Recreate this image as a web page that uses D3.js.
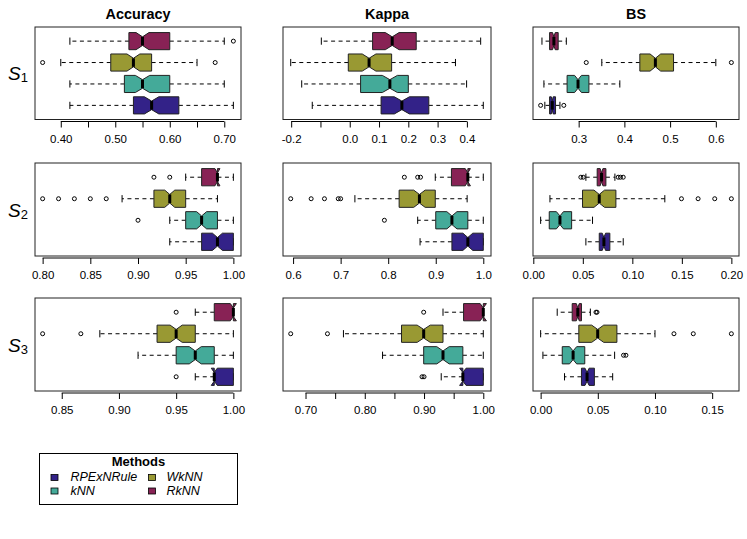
<!DOCTYPE html>
<html>
<head>
<meta charset="utf-8">
<script src="https://cdn.jsdelivr.net/npm/d3@7/dist/d3.min.js"></script>
<style>
  html, body { margin: 0; padding: 0; background: #fff; }
  svg { display: block; font-family: "Liberation Sans", Arial, Helvetica, sans-serif; }
</style>
</head>
<body>
<svg id="chart" width="747" height="539"></svg>
<script>
// ---------------- DATA ----------------
const methods = ["RPExNRule", "kNN", "WkNN", "RkNN"];   // bottom -> top
const methodColors = ["#332288", "#44AA99", "#999933", "#882255"];
const measures = ["Accuracy", "Kappa", "BS"];
const scenarios = ["1", "2", "3"];
const nRuns = 100; // used for R-style notch width 1.58*IQR/sqrt(n)

// stats: [lower whisker, Q1, median, Q3, upper whisker], order = methods
const s1Accuracy = [[0.4167, 0.5333, 0.5667, 0.6167, 0.7167], [0.4167, 0.5167, 0.55, 0.60, 0.70], [0.40, 0.4917, 0.5333, 0.5667, 0.65], [0.4167, 0.525, 0.55, 0.60, 0.70]];
const s1AccuracyOut = [[], [], [0.3667, 0.6833], [0.7167]];
const s1Kappa = [[-0.128, 0.107, 0.178, 0.27, 0.456], [-0.164, 0.037, 0.137, 0.20, 0.399], [-0.2016, -0.005, 0.066, 0.143, 0.361], [-0.097, 0.078, 0.145, 0.227, 0.447]];
const s1KappaOut = [[], [], [], []];
const s1BS = [[0.226, 0.2364, 0.2422, 0.2494, 0.259], [0.224, 0.2747, 0.2986, 0.3224, 0.390], [0.3506, 0.4338, 0.4678, 0.5075, 0.60], [0.2197, 0.2364, 0.2458, 0.2552, 0.273]];
const s1BSOut = [[0.2168, 0.2675], [], [0.3166, 0.634], []];

const s2Accuracy = [[0.9333, 0.9667, 0.9833, 1.0, 1.0], [0.9333, 0.95, 0.9667, 0.9833, 1.0], [0.8833, 0.9167, 0.9333, 0.95, 0.9833], [0.95, 0.9667, 0.9833, 0.9833, 1.0]];
const s2AccuracyOut = [[], [0.90], [0.80, 0.8167, 0.8333, 0.85, 0.8667], [0.9167, 0.9333]];
const s2Kappa = [[0.867, 0.934, 0.9675, 1.0, 1.0], [0.862, 0.90, 0.934, 0.9675, 1.0], [0.730, 0.823, 0.8657, 0.899, 0.966], [0.899, 0.933, 0.9675, 0.9675, 1.0]];
const s2KappaOut = [[], [0.792], [0.595, 0.638, 0.666, 0.695, 0.700], [0.834, 0.862, 0.868]];
const s2BS = [[0.0531, 0.0666, 0.0713, 0.0773, 0.0908], [0.0074, 0.0161, 0.0269, 0.0387, 0.0598], [0.0168, 0.0497, 0.0666, 0.0834, 0.1328], [0.0531, 0.0645, 0.0689, 0.0733, 0.0824]];
const s2BSOut = [[], [], [0.1496, 0.1664, 0.1832, 0.20], [0.048, 0.0504, 0.0857, 0.088, 0.0908]];

const s3Accuracy = [[0.9667, 0.9833, 0.9833, 1.0, 1.0], [0.9167, 0.95, 0.9667, 0.9833, 1.0], [0.8833, 0.9333, 0.95, 0.9667, 1.0], [0.9667, 0.9833, 1.0, 1.0, 1.0]];
const s3AccuracyOut = [[0.95], [], [0.8333, 0.8667], [0.95]];
const s3Kappa = [[0.929, 0.9655, 0.9655, 1.0, 1.0], [0.830, 0.8994, 0.932, 0.9655, 1.0], [0.764, 0.862, 0.8994, 0.932, 1.0], [0.932, 0.9667, 1.0, 1.0, 1.0]];
const s3KappaOut = [[0.8966, 0.90], [], [0.675, 0.737], [0.8994]];
const s3BS = [[0.0209, 0.0357, 0.0406, 0.047, 0.063], [0.002, 0.0189, 0.0284, 0.0386, 0.0647], [0.0, 0.0334, 0.0499, 0.0667, 0.10], [0.0145, 0.0276, 0.0325, 0.0357, 0.0435]];
const s3BSOut = [[], [0.0725, 0.0746], [0.1166, 0.1335, 0.1668], [0.0484, 0.0493]];

// axis ticks and their labels ("" = tick without label)
const s1AccuracyTicks = [0.40, 0.45, 0.50, 0.55, 0.60, 0.65, 0.70];
const s1AccuracyLabels = ["0.40", "", "0.50", "", "0.60", "", "0.70"];
const s1KappaTicks = [-0.2, -0.1, 0.0, 0.1, 0.2, 0.3, 0.4];
const s1KappaLabels = ["-0.2", "", "0.0", "0.1", "0.2", "0.3", "0.4"];
const s1BSTicks = [0.3, 0.4, 0.5, 0.6];
const s1BSLabels = ["0.3", "0.4", "0.5", "0.6"];
const s2AccuracyTicks = [0.80, 0.85, 0.90, 0.95, 1.00];
const s2AccuracyLabels = ["0.80", "0.85", "0.90", "0.95", "1.00"];
const s2KappaTicks = [0.6, 0.7, 0.8, 0.9, 1.0];
const s2KappaLabels = ["0.6", "0.7", "0.8", "0.9", "1.0"];
const s2BSTicks = [0.00, 0.05, 0.10, 0.15, 0.20];
const s2BSLabels = ["0.00", "0.05", "0.10", "0.15", "0.20"];
const s3AccuracyTicks = [0.85, 0.90, 0.95, 1.00];
const s3AccuracyLabels = ["0.85", "0.90", "0.95", "1.00"];
const s3KappaTicks = [0.70, 0.75, 0.80, 0.85, 0.90, 0.95, 1.00];
const s3KappaLabels = ["0.70", "", "0.80", "", "0.90", "", "1.00"];
const s3BSTicks = [0.00, 0.05, 0.10, 0.15];
const s3BSLabels = ["0.00", "0.05", "0.10", "0.15"];

// ---------------- LAYOUT ----------------
const panels = [
  [s1Accuracy, s1AccuracyOut, s1AccuracyTicks, s1AccuracyLabels],
  [s1Kappa, s1KappaOut, s1KappaTicks, s1KappaLabels],
  [s1BS, s1BSOut, s1BSTicks, s1BSLabels],
  [s2Accuracy, s2AccuracyOut, s2AccuracyTicks, s2AccuracyLabels],
  [s2Kappa, s2KappaOut, s2KappaTicks, s2KappaLabels],
  [s2BS, s2BSOut, s2BSTicks, s2BSLabels],
  [s3Accuracy, s3AccuracyOut, s3AccuracyTicks, s3AccuracyLabels],
  [s3Kappa, s3KappaOut, s3KappaTicks, s3KappaLabels],
  [s3BS, s3BSOut, s3BSTicks, s3BSLabels]
];
const colX = [[35, 241], [283, 491], [533, 739]];
const rowY = [[27, 119.5], [163, 256], [298, 391]];

const svg = d3.select("#chart");

// column titles
measures.forEach((m, c) => {
  svg.append("text")
    .attr("x", (colX[c][0] + colX[c][1]) / 2).attr("y", 18.5)
    .attr("text-anchor", "middle").attr("font-weight", "bold").attr("font-size", 14.4)
    .text(m);
});

// row labels
scenarios.forEach((s, r) => {
  const cy = (rowY[r][0] + rowY[r][1]) / 2;
  const t = svg.append("text").attr("x", 8).attr("y", cy + 7).attr("font-size", 19);
  t.append("tspan").attr("font-style", "italic").text("S");
  t.append("tspan").attr("font-size", 13).attr("dy", 2).text(s);
});

panels.forEach((p, i) => {
  const r = Math.floor(i / 3), c = i % 3;
  const [stats, outs, ticks, labels] = p;
  const allVals = stats.flat().concat(outs.flat());
  let lo = d3.min(allVals), hi = d3.max(allVals);
  const pad = (hi - lo) * 0.04;
  const x = d3.scaleLinear().domain([lo - pad, hi + pad]).range(colX[c]);
  const y = d3.scaleLinear().domain([0.34, 4.66]).range([rowY[r][1], rowY[r][0]]);
  const g = svg.append("g");
  const halfW = (y(0) - y(0.4)); // box half width (boxwex 0.8)
  const stapleHalf = halfW * 0.42;

  stats.forEach((s, k) => {
    const [wl, q1, med, q3, wh] = s;
    const cy = y(k + 1);
    const notch = 1.58 * (q3 - q1) / Math.sqrt(nRuns);
    const nlo = med - notch, nhi = med + notch;
    // whiskers
    g.append("line").attr("x1", x(q1)).attr("x2", x(wl)).attr("y1", cy).attr("y2", cy)
      .attr("stroke", "#000").attr("stroke-width", 1).attr("stroke-dasharray", "4,3.5");
    g.append("line").attr("x1", x(q3)).attr("x2", x(wh)).attr("y1", cy).attr("y2", cy)
      .attr("stroke", "#000").attr("stroke-width", 1).attr("stroke-dasharray", "4,3.5");
    // staples
    [wl, wh].forEach(v => {
      g.append("line").attr("x1", x(v)).attr("x2", x(v))
        .attr("y1", cy - stapleHalf).attr("y2", cy + stapleHalf)
        .attr("stroke", "#000").attr("stroke-width", 1);
    });
    // notched box
    const pts = [
      [x(q1), cy - halfW], [x(nlo), cy - halfW], [x(med), cy - halfW * 0.5], [x(nhi), cy - halfW], [x(q3), cy - halfW],
      [x(q3), cy + halfW], [x(nhi), cy + halfW], [x(med), cy + halfW * 0.5], [x(nlo), cy + halfW], [x(q1), cy + halfW]
    ];
    g.append("polygon").attr("points", pts.map(d => d.join(",")).join(" "))
      .attr("fill", methodColors[k]).attr("stroke", "#222").attr("stroke-width", 1)
      .attr("stroke-linejoin", "miter");
    // median
    g.append("line").attr("x1", x(med)).attr("x2", x(med))
      .attr("y1", cy - halfW * 0.5).attr("y2", cy + halfW * 0.5)
      .attr("stroke", "#000").attr("stroke-width", 3);
    // outliers
    outs[k].forEach(v => {
      g.append("circle").attr("cx", x(v)).attr("cy", cy).attr("r", 2)
        .attr("fill", "none").attr("stroke", "#000").attr("stroke-width", 1);
    });
  });

  // frame
  g.append("rect").attr("x", colX[c][0]).attr("y", rowY[r][0])
    .attr("width", colX[c][1] - colX[c][0]).attr("height", rowY[r][1] - rowY[r][0])
    .attr("fill", "none").attr("stroke", "#222").attr("stroke-width", 1);

  // axis
  const axY = rowY[r][1] + 2;
  const ax = svg.append("g").attr("transform", `translate(0,${axY})`)
    .call(d3.axisBottom(x).tickValues(ticks).tickFormat((d, j) => labels[j]).tickSize(6).tickPadding(7).tickSizeOuter(0));
  ax.select(".domain").remove();
  ax.selectAll("text").attr("font-size", 11.5).attr("font-family", "Liberation Sans, Arial, Helvetica, sans-serif").attr("fill", "#000");
  ax.selectAll("line").attr("stroke", "#000");
  ax.append("line").attr("x1", x(ticks[0])).attr("x2", x(ticks[ticks.length - 1]))
    .attr("y1", 0).attr("y2", 0).attr("stroke", "#000");
});

// ---------------- LEGEND ----------------
const lg = svg.append("g");
lg.append("rect").attr("x", 39.5).attr("y", 453.5).attr("width", 198).attr("height", 51)
  .attr("fill", "#fff").attr("stroke", "#000").attr("stroke-width", 1);
lg.append("text").attr("x", 138.5).attr("y", 466).attr("text-anchor", "middle")
  .attr("font-weight", "bold").attr("font-size", 13).text("Methods");
const legendOrder = [0, 2, 1, 3]; // RPExNRule, WkNN / kNN, RkNN
legendOrder.forEach((k, j) => {
  const col = j % 2, row = Math.floor(j / 2);
  const sx = col === 0 ? 51 : 148.5;
  const ty = row === 0 ? 481 : 494.5;
  lg.append("rect").attr("x", sx).attr("y", ty - 6.5).attr("width", 7).attr("height", 6)
    .attr("fill", methodColors[k]).attr("stroke", "#000").attr("stroke-width", 0.8);
  lg.append("text").attr("x", col === 0 ? 70.5 : 166.5).attr("y", ty)
    .attr("font-style", "italic").attr("font-size", 12.5).text(methods[k]);
});
</script>
</body>
</html>
